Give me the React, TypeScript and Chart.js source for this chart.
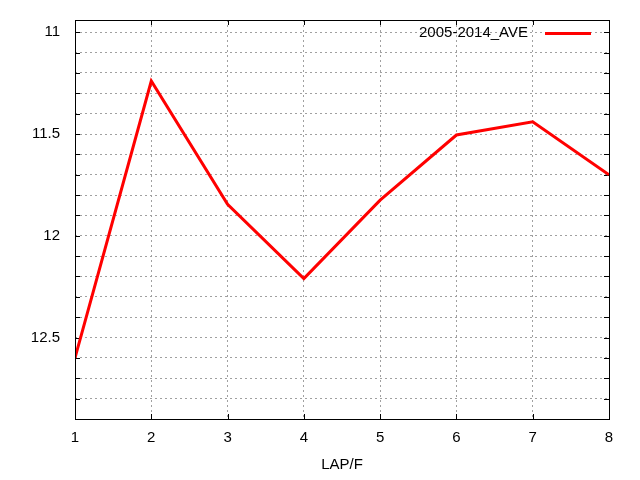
import React, { useEffect, useRef } from 'react';
import { Chart, registerables } from 'chart.js';

Chart.register(...registerables);

const laps = [1, 2, 3, 4, 5, 6, 7, 8];
const aveTimes = [12.6, 11.24, 11.845, 12.21, 11.825, 11.505, 11.44, 11.7];
const seriesLabel = '2005-2014_AVE';
const xTickValues = [1, 2, 3, 4, 5, 6, 7, 8];
const yTickValues = [11, 11.1, 11.2, 11.3, 11.4, 11.5, 11.6, 11.7, 11.8, 11.9, 12, 12.1, 12.2, 12.3, 12.4, 12.5, 12.6, 12.7, 12.8];
const yLabelValues = [11, 11.5, 12, 12.5];
const xTitle = 'LAP/F';

const FONT = "'Liberation Sans', Arial, sans-serif";

const framePlugin = {
  id: 'gnuFrame',
  beforeDatasetsDraw(chart: any) {
    const { ctx, chartArea } = chart;
    const { left, right, top, bottom } = chartArea;
    const xs = chart.scales.x;
    const ys = chart.scales.y;
    ctx.save();
    ctx.strokeStyle = '#000';
    ctx.lineWidth = 1;
    ctx.setLineDash([]);
    ctx.beginPath();
    const tl = 5;
    yTickValues.forEach((v) => {
      const py = Math.round(ys.getPixelForValue(v)) + 0.5;
      ctx.moveTo(left, py);
      ctx.lineTo(left + tl, py);
      ctx.moveTo(right, py);
      ctx.lineTo(right - tl, py);
    });
    xTickValues.forEach((v) => {
      const px = Math.round(xs.getPixelForValue(v)) + 0.5;
      ctx.moveTo(px, bottom);
      ctx.lineTo(px, bottom - tl);
      ctx.moveTo(px, top);
      ctx.lineTo(px, top + tl);
    });
    ctx.stroke();
    ctx.restore();
  },
  afterDraw(chart: any) {
    const { ctx, chartArea } = chart;
    const { left, right, top, bottom } = chartArea;
    ctx.save();
    ctx.strokeStyle = '#000';
    ctx.lineWidth = 1;
    ctx.setLineDash([]);
    ctx.strokeRect(Math.round(left) + 0.5, Math.round(top) + 0.5, Math.round(right - left), Math.round(bottom - top));
    // legend (gnuplot style: text then sample line)
    const ds = chart.data.datasets[0];
    const ly = Math.round(top) + 13;
    ctx.font = `15px ${FONT}`;
    ctx.fillStyle = '#000';
    ctx.textAlign = 'right';
    ctx.textBaseline = 'middle';
    ctx.fillText(ds.label, right - 81, ly);
    ctx.strokeStyle = ds.borderColor;
    ctx.lineWidth = ds.borderWidth;
    ctx.beginPath();
    ctx.moveTo(right - 64, ly + 0.5);
    ctx.lineTo(right - 18, ly + 0.5);
    ctx.stroke();
    ctx.restore();
  },
};

export default function App() {
  const canvasRef = useRef<HTMLCanvasElement | null>(null);

  useEffect(() => {
    document.body.style.margin = '0';
    const canvas = canvasRef.current;
    if (!canvas) return;
    const chart = new Chart(canvas, {
      type: 'line',
      data: {
        datasets: [
          {
            label: seriesLabel,
            data: laps.map((x, i) => ({ x, y: aveTimes[i] })),
            borderColor: '#ff0000',
            backgroundColor: '#ff0000',
            borderWidth: 3,
            pointRadius: 0,
            tension: 0,
            fill: false,
          },
        ],
      },
      options: {
        responsive: false,
        animation: false,
        layout: { padding: { top: 20, right: 31, left: 0, bottom: 0 } },
        plugins: {
          legend: { display: false },
          tooltip: { enabled: false },
        },
        scales: {
          x: {
            type: 'linear',
            min: 1,
            max: 8,
            afterBuildTicks: (scale: any) => {
              scale.ticks = xTickValues.map((value) => ({ value }));
            },
            afterFit: (scale: any) => {
              scale.height = 61;
              scale.paddingLeft = 0;
              scale.paddingRight = 0;
            },
            ticks: {
              color: '#000',
              font: { family: FONT, size: 15 },
              padding: 10,
              maxRotation: 0,
              callback: (v: any) => String(v),
            },
            grid: { color: '#a0a0a0', drawTicks: false, lineWidth: 1 },
            border: { display: false, dash: [2, 3] },
            title: {
              display: true,
              text: xTitle,
              color: '#000',
              font: { family: FONT, size: 15 },
              padding: { top: 0, bottom: 6 },
            },
          },
          y: {
            type: 'linear',
            reverse: true,
            min: 10.94,
            max: 12.9,
            afterBuildTicks: (scale: any) => {
              scale.ticks = yTickValues.map((value) => ({ value }));
            },
            afterFit: (scale: any) => {
              scale.width = 75;
              scale.paddingTop = 0;
              scale.paddingBottom = 0;
            },
            ticks: {
              color: '#000',
              font: { family: FONT, size: 15 },
              padding: 15,
              autoSkip: false,
              callback: (v: any) => {
                const n = Number(v);
                return yLabelValues.some((l) => Math.abs(l - n) < 1e-6) ? String(Math.round(n * 10) / 10) : '';
              },
            },
            grid: { color: '#a0a0a0', drawTicks: false, lineWidth: 1 },
            border: { display: false, dash: [2, 3] },
          },
        },
      },
      plugins: [framePlugin],
    });
    return () => chart.destroy();
  }, []);

  return (
    <div style={{ position: 'fixed', left: 0, top: 0, width: 640, height: 480, background: '#fff' }}>
      <canvas ref={canvasRef} width={640} height={480} />
    </div>
  );
}
